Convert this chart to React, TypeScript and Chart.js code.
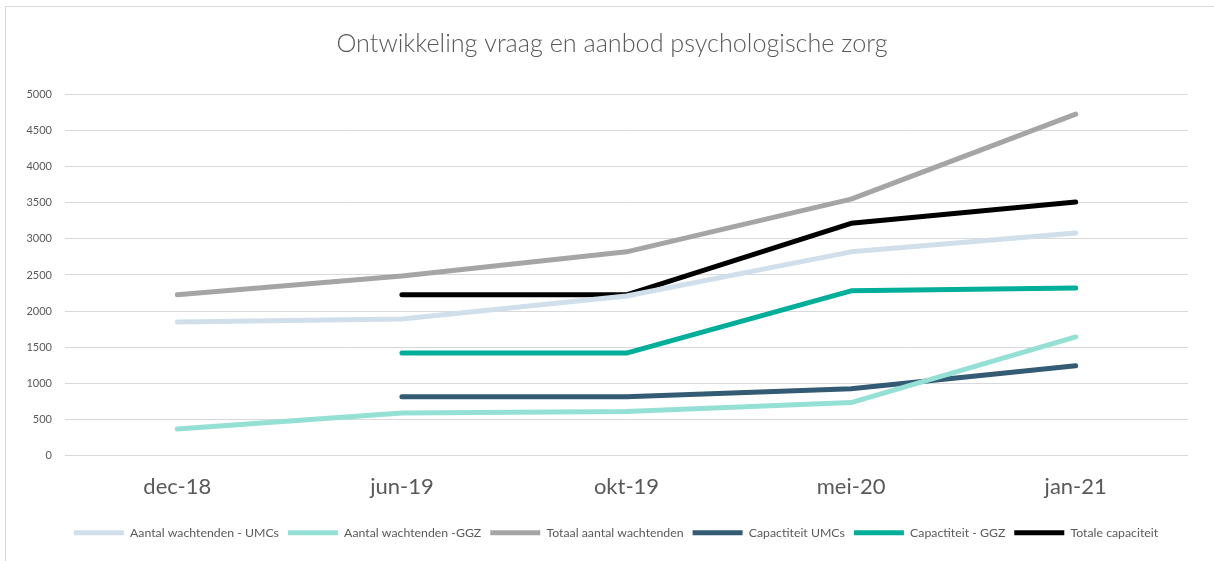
import React, { useEffect, useRef } from "react";
import { Chart, registerables } from "chart.js";

Chart.register(...registerables);

const categories = ["dec-18", "jun-19", "okt-19", "mei-20", "jan-21"];
const wachtendenUMCs = [1850, 1890, 2210, 2820, 3080];
const wachtendenGGZ = [370, 590, 610, 735, 1645];
const totaalWachtenden = [2225, 2485, 2820, 3550, 4725];
const capaciteitUMCs = [null, 815, 815, 925, 1245];
const capaciteitGGZ = [null, 1420, 1420, 2280, 2320];
const totaleCapaciteit = [null, 2225, 2225, 3215, 3510];
const yTicks = [0, 500, 1000, 1500, 2000, 2500, 3000, 3500, 4000, 4500, 5000];

const FONT = "Lato, 'Open Sans', sans-serif";

const shiftBoxes = {
  id: "shiftBoxes",
  afterLayout(chart: any) {
    const lg = chart.legend;
    if (lg) {
      lg.left += 19;
      lg.right += 19;
    }
    const t = chart.titleBlock;
    if (t) {
      t.left += 15;
      t.right += 15;
    }
  },
};

export default function App() {
  const ref = useRef<HTMLCanvasElement>(null);
  useEffect(() => {
    if (!ref.current) return;
    const mk = (label: string, data: (number | null)[], color: string) => ({
      label,
      data,
      borderColor: color,
      backgroundColor: color,
      borderWidth: 5,
      borderCapStyle: "round" as const,
      borderJoinStyle: "round" as const,
      pointRadius: 0,
      pointHoverRadius: 0,
      pointStyle: "line" as const,
      tension: 0,
      fill: false,
    });
    const chart = new Chart(ref.current, {
      type: "line",
      data: {
        labels: categories,
        datasets: [
          mk("Aantal wachtenden - UMCs", wachtendenUMCs, "#D0DFEA"),
          mk("Aantal wachtenden -GGZ", wachtendenGGZ, "#95E0D4"),
          mk("Totaal aantal wachtenden", totaalWachtenden, "#A5A5A5"),
          mk("Capactiteit UMCs", capaciteitUMCs, "#335B74"),
          mk("Capactiteit - GGZ", capaciteitGGZ, "#00AE9A"),
          mk("Totale capaciteit", totaleCapaciteit, "#000000"),
        ],
      },
      plugins: [shiftBoxes],
      options: {
        animation: false,
        responsive: false,
        layout: { padding: { left: 0, right: 26, top: 0, bottom: 12 } },
        plugins: {
          tooltip: { enabled: false },
          title: {
            display: true,
            text: "Ontwikkeling vraag en aanbod psychologische zorg",
            color: "#595959",
            font: { family: FONT, size: 25.2, weight: "300" },
            padding: { top: 22, bottom: 35 },
          },
          legend: {
            position: "bottom",
            labels: {
              usePointStyle: true,
              pointStyleWidth: 50,
              color: "#595959",
              font: { family: FONT, size: 12.3 },
              padding: 9,
            },
          },
        },
        scales: {
          x: {
            offset: true,
            grid: { display: false },
            border: { display: false },
            ticks: {
              color: "#595959",
              font: { family: FONT, size: 22 },
              padding: 10,
            },
            afterFit: (s: any) => {
              s.height = 62;
            },
          },
          y: {
            min: 0,
            max: 5000,
            afterBuildTicks: (s: any) => {
              s.ticks = yTicks.map((v) => ({ value: v }));
            },
            grid: { color: "#D9D9D9", lineWidth: 1, drawTicks: false },
            border: { display: false },
            ticks: {
              color: "#595959",
              font: { family: FONT, size: 11 },
              padding: 13,
              callback: (v: any) => String(v),
            },
            afterFit: (s: any) => {
              s.width = 59;
            },
          },
        },
      },
    });
    return () => chart.destroy();
  }, []);
  return (
    <div
      style={{
        position: "absolute",
        left: 5,
        top: 6,
        width: 1220,
        height: 570,
        border: "1px solid #D9D9D9",
        background: "#fff",
      }}
    >
      <canvas ref={ref} width={1208} height={554} style={{ display: "block" }} />
    </div>
  );
}
